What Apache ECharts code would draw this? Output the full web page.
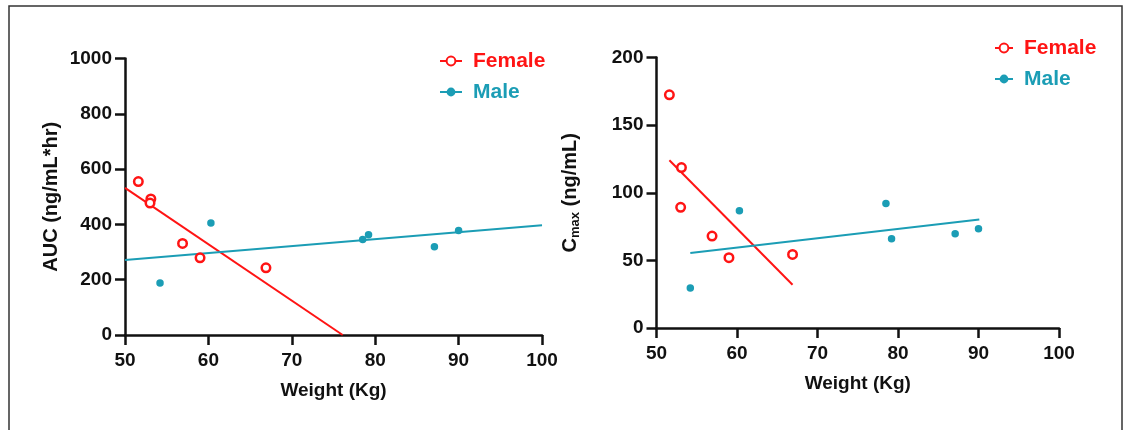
<!DOCTYPE html>
<html>
<head>
<meta charset="utf-8">
<script src="https://cdn.jsdelivr.net/npm/echarts@6/dist/echarts.min.js"></script>
<style>
html,body{margin:0;padding:0;background:#fff;}
#c{width:1130px;height:430px;}
</style>
</head>
<body>
<div id="c"></div>
<script>
// ---- data ----
const weightFemale = [51.6, 53.1, 53.0, 56.9, 59.0, 66.9];
const aucFemale    = [555, 492, 477, 331, 279, 243];
const cmaxFemale   = [172.4, 118.6, 89.2, 68.0, 52.0, 54.4];

const weightMale = [54.2, 60.3, 78.5, 79.2, 87.1, 90.0];
const aucMale    = [188, 405, 345, 363, 319, 378];
const cmaxMale   = [29.6, 86.6, 92.1, 65.9, 69.6, 73.3];

// fitted lines (end points)
const aucFitFemaleX = [50, 76.1];
const aucFitFemaleY = [532, 0];
const aucFitMaleX   = [50, 100];
const aucFitMaleY   = [271, 397];
const cmaxFitFemaleX = [51.6, 66.9];
const cmaxFitFemaleY = [124, 32];
const cmaxFitMaleX   = [54.2, 90.1];
const cmaxFitMaleY   = [55.5, 80.3];

const xTicks = [50, 60, 70, 80, 90, 100];
const aucTicks = [0, 200, 400, 600, 800, 1000];
const cmaxTicks = [0, 50, 100, 150, 200];

const RED = '#ff1414';
const TEAL = '#1b9db5';
const FONT = '"Liberation Sans", Arial, sans-serif';

const zip = (xs, ys) => xs.map((x, i) => [x, ys[i]]);

const axisCommon = {
  axisLine: {onZero: false, lineStyle: {color: '#111', width: 2.5}},
  axisTick: {show: true, inside: false, length: 10, lineStyle: {color: '#111', width: 2.5}},
  splitLine: {show: false},
  axisLabel: {color: '#111', fontFamily: FONT, fontWeight: 'bold', fontSize: 19, formatter: v => String(v)},
  nameTextStyle: {color: '#111', fontFamily: FONT, fontWeight: 'bold', fontSize: 19}
};

function xAxis(gridIndex) {
  return Object.assign({}, axisCommon, {
    type: 'value', gridIndex, min: xTicks[0], max: xTicks[xTicks.length - 1], interval: 10,
    name: 'Weight (Kg)', nameLocation: 'middle', nameGap: 46,
    axisLabel: Object.assign({}, axisCommon.axisLabel, {margin: 16})
  });
}

function lineSeries(name, xi, yi, xs, ys, color, symbol) {
  return {
    type: 'line', name, xAxisIndex: xi, yAxisIndex: yi,
    data: zip(xs, ys), showSymbol: false, symbol, symbolSize: 10,
    lineStyle: {color, width: 2}, itemStyle: {color},
    silent: true, animation: false, z: 2
  };
}
function scatterSeries(name, xi, yi, xs, ys, color, empty) {
  return {
    type: 'scatter', name, xAxisIndex: xi, yAxisIndex: yi,
    data: zip(xs, ys),
    symbol: 'circle', symbolSize: empty ? 8.5 : 7.5,
    itemStyle: empty ? {color: '#fff', borderColor: color, borderWidth: 2.5, opacity: 1}
                     : {color: color, opacity: 1},
    animation: false, z: 3
  };
}

const legendData = [
  {name: 'Female', textStyle: {color: RED}},
  {name: 'Male', textStyle: {color: TEAL}}
];
function legend(left, top, w) {
  return {
    orient: 'vertical', left, top, padding: 0, itemWidth: w, itemHeight: 11, itemGap: 7,
    selectedMode: false, data: legendData,
    textStyle: {fontFamily: FONT, fontWeight: 'bold', fontSize: 21, lineHeight: 24, padding: [0, 0, 0, 6]}
  };
}

const chart = echarts.init(document.getElementById('c'), null, {renderer: 'canvas'});
chart.setOption({
  backgroundColor: '#fff',
  animation: false,
  graphic: [{
    type: 'rect', shape: {x: 9, y: 6, width: 1113, height: 440},
    style: {fill: 'none', stroke: '#333', lineWidth: 1.5}, silent: true
  }],
  legend: [legend(439, 49, 22), legend(994, 36, 18)],
  grid: [
    {left: 125, right: 588, top: 58.5, bottom: 95},
    {left: 656.5, right: 71, top: 57.5, bottom: 102}
  ],
  xAxis: [xAxis(0), xAxis(1)],
  yAxis: [
    Object.assign({}, axisCommon, {
      type: 'value', gridIndex: 0, min: 0, max: 1000, interval: 200,
      name: 'AUC (ng/mL*hr)', nameLocation: 'middle', nameGap: 64,
      nameTextStyle: Object.assign({}, axisCommon.nameTextStyle, {fontSize: 20}),
      axisLabel: Object.assign({}, axisCommon.axisLabel, {margin: 13})
    }),
    Object.assign({}, axisCommon, {
      type: 'value', gridIndex: 1, min: 0, max: 200, interval: 50,
      name: '{a|C}{s|max}{a| (ng/mL)}', nameLocation: 'middle', nameGap: 75,
      nameTextStyle: {
        color: '#111', fontFamily: FONT, fontWeight: 'bold', fontSize: 20,
        rich: {
          a: {color: '#111', fontFamily: FONT, fontWeight: 'bold', fontSize: 20},
          s: {color: '#111', fontFamily: FONT, fontWeight: 'bold', fontSize: 13, padding: [10, 0, 0, 0]}
        }
      },
      axisLabel: Object.assign({}, axisCommon.axisLabel, {margin: 13})
    })
  ],
  series: [
    lineSeries('Female', 0, 0, aucFitFemaleX, aucFitFemaleY, RED, 'emptyCircle'),
    lineSeries('Male', 0, 0, aucFitMaleX, aucFitMaleY, TEAL, 'circle'),
    lineSeries('Female', 1, 1, cmaxFitFemaleX, cmaxFitFemaleY, RED, 'emptyCircle'),
    lineSeries('Male', 1, 1, cmaxFitMaleX, cmaxFitMaleY, TEAL, 'circle'),
    scatterSeries('Female', 0, 0, weightFemale, aucFemale, RED, true),
    scatterSeries('Male', 0, 0, weightMale, aucMale, TEAL, false),
    scatterSeries('Female', 1, 1, weightFemale, cmaxFemale, RED, true),
    scatterSeries('Male', 1, 1, weightMale, cmaxMale, TEAL, false)
  ]
});
</script>
</body>
</html>
